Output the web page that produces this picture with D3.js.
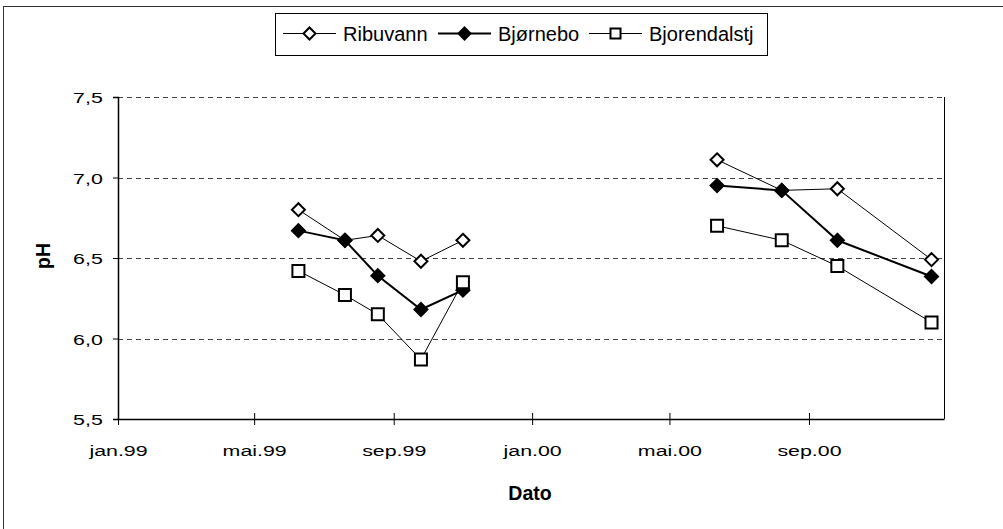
<html>
<head>
<meta charset="utf-8">
<title>pH</title>
<script src="https://d3js.org/d3.v7.min.js"></script>
<style>
  body { margin: 0; background: #fff; }
  text { font-family: "Liberation Sans", Arial, sans-serif; fill: #000; }
</style>
</head>
<body>
<svg width="1003" height="529"></svg>
<script>
// sampling dates and pH values
var dates = ["1999-06-09", "1999-07-20", "1999-08-18", "1999-09-25", "1999-11-01",
             "2000-06-12", "2000-08-08", "2000-09-26", "2000-12-18"];
var ribuvann     = [6.80, 6.61, 6.64, 6.48, 6.61, 7.11, 6.92, 6.93, 6.49];
var bjornebo     = [6.67, 6.61, 6.39, 6.18, 6.30, 6.95, 6.92, 6.61, 6.385];
var bjorendalstj = [6.42, 6.27, 6.15, 5.87, 6.35, 6.70, 6.61, 6.45, 6.10];
var seriesNames  = ["Ribuvann", "Bjørnebo", "Bjorendalstj"];
var yTicks = [5.5, 6.0, 6.5, 7.0, 7.5];
var monthNames = ["jan", "feb", "mar", "apr", "mai", "jun", "jul", "aug", "sep", "okt", "nov", "des"];

var margin = {top: 97, right: 59, bottom: 110, left: 118};
var width = 1003 - margin.left - margin.right;
var height = 529 - margin.top - margin.bottom;

var parse = d3.timeParse("%Y-%m-%d");
var xScale = d3.scaleTime()
    .domain([parse("1999-01-01"), parse("2000-12-29")])
    .range([0, width]);
var yScale = d3.scaleLinear().domain([5.5, 7.5]).range([height, 0]);

var svg = d3.select("svg");

// outer chart frame (cut off at the right and bottom)
svg.append("rect")
    .attr("x", 3.5).attr("y", 6.5)
    .attr("width", 1100).attr("height", 600)
    .attr("fill", "none").attr("stroke", "#333").attr("stroke-width", 1);

var g = svg.append("g")
    .attr("transform", "translate(" + margin.left + "," + margin.top + ")");

// dashed gridlines
g.selectAll(".grid")
    .data(yTicks.filter(d => d > 5.5))
    .enter().append("line")
    .attr("x1", 0).attr("x2", width)
    .attr("y1", d => Math.round(yScale(d)) + 0.5)
    .attr("y2", d => Math.round(yScale(d)) + 0.5)
    .attr("stroke", "#444")
    .attr("stroke-dasharray", "5,4");

// right border of plot
g.append("line")
    .attr("x1", width + 0.5).attr("x2", width + 0.5)
    .attr("y1", 0).attr("y2", height)
    .attr("stroke", "#000");

var yAxis = d3.axisLeft(yScale)
    .tickValues(yTicks)
    .tickSize(5)
    .tickFormat(d => d3.format(".1f")(d).replace(".", ","));
var yAxisGroup = g.append("g").call(yAxis);
yAxisGroup.select(".domain").attr("stroke", "#000").attr("stroke-width", 1.5);
yAxisGroup.selectAll(".tick line").attr("stroke", "#000");
yAxisGroup.selectAll(".tick text")
    .attr("x", -11)
    .attr("dy", "0.36em")
    .attr("font-size", 15.5)
    .attr("font-family", "Liberation Sans, Arial, sans-serif")
    .attr("transform", "scale(1.38,1)");

var xAxis = d3.axisBottom(xScale)
    .ticks(d3.timeMonth.every(4))
    .tickSize(0)
    .tickFormat(d => monthNames[d.getMonth()] + "." + d3.timeFormat("%y")(d));
var xAxisGroup = g.append("g")
    .attr("transform", "translate(0," + height + ")")
    .call(xAxis);
xAxisGroup.select(".domain").attr("stroke", "#000").attr("stroke-width", 1.5);
xAxisGroup.selectAll(".tick").append("line")
    .attr("y1", -6).attr("y2", 6)
    .attr("stroke", "#000");
xAxisGroup.selectAll(".tick text")
    .attr("y", 37)
    .attr("dy", null)
    .attr("font-size", 15.5)
    .attr("font-family", "Liberation Sans, Arial, sans-serif")
    .attr("transform", "scale(1.38,1)");

// axis titles
svg.append("text")
    .attr("x", 530).attr("y", 500)
    .attr("text-anchor", "middle")
    .attr("font-size", 19.5).attr("font-weight", "bold")
    .text("Dato");
svg.append("text")
    .attr("transform", "translate(50,256) rotate(-90)")
    .attr("text-anchor", "middle")
    .attr("font-size", 19.5).attr("font-weight", "bold")
    .text("pH");

// series
var seriesValues = [ribuvann, bjornebo, bjorendalstj];
var styles = [
  {width: 1, symbol: "diamond", fill: "#fff", size: 13},
  {width: 2, symbol: "diamond", fill: "#000", size: 13},
  {width: 1, symbol: "square", fill: "#fff", size: 12}
];
var series = seriesNames.map(function (name, i) {
  return {
    name: name,
    style: styles[i],
    points: dates.map((d, j) => ({date: parse(d), value: seriesValues[i][j]}))
  };
});

var line = d3.line()
    .x(d => xScale(d.date))
    .y(d => yScale(d.value));

function symbolPath(symbol, size) {
  var r = size / 2;
  if (symbol === "square") {
    return "M" + (-r) + "," + (-r) + "H" + r + "V" + r + "H" + (-r) + "Z";
  }
  return "M0," + (-r) + "L" + r + ",0L0," + r + "L" + (-r) + ",0Z";
}

series.forEach(function (s) {
  var byYear = d3.groups(s.points, d => d.date.getFullYear());
  g.selectAll(null)
      .data(byYear)
      .enter().append("path")
      .attr("d", d => line(d[1]))
      .attr("fill", "none")
      .attr("stroke", "#000")
      .attr("stroke-width", s.style.width);
  g.selectAll(null)
      .data(s.points)
      .enter().append("path")
      .attr("d", symbolPath(s.style.symbol, s.style.size))
      .attr("transform", d => "translate(" + xScale(d.date) + "," + yScale(d.value) + ")")
      .attr("fill", s.style.fill)
      .attr("stroke", "#000")
      .attr("stroke-width", 2);
});

// legend
var legend = svg.append("g");
legend.append("rect")
    .attr("x", 275.5).attr("y", 13.5)
    .attr("width", 492).attr("height", 42)
    .attr("fill", "#fff").attr("stroke", "#000");
var legendX = [283, 438, 589];
series.forEach(function (s, i) {
  var x0 = legendX[i];
  legend.append("line")
      .attr("x1", x0).attr("x2", x0 + 53)
      .attr("y1", 33.5).attr("y2", 33.5)
      .attr("stroke", "#000")
      .attr("stroke-width", s.style.width);
  legend.append("path")
      .attr("d", symbolPath(s.style.symbol, s.style.symbol === "square" ? 10 : 12))
      .attr("transform", "translate(" + (x0 + 26.5) + ",33.5)")
      .attr("fill", s.style.fill)
      .attr("stroke", "#000")
      .attr("stroke-width", 2);
  legend.append("text")
      .attr("x", x0 + 60).attr("y", 40.5)
      .attr("font-size", 20)
      .text(s.name);
});
</script>
</body>
</html>
